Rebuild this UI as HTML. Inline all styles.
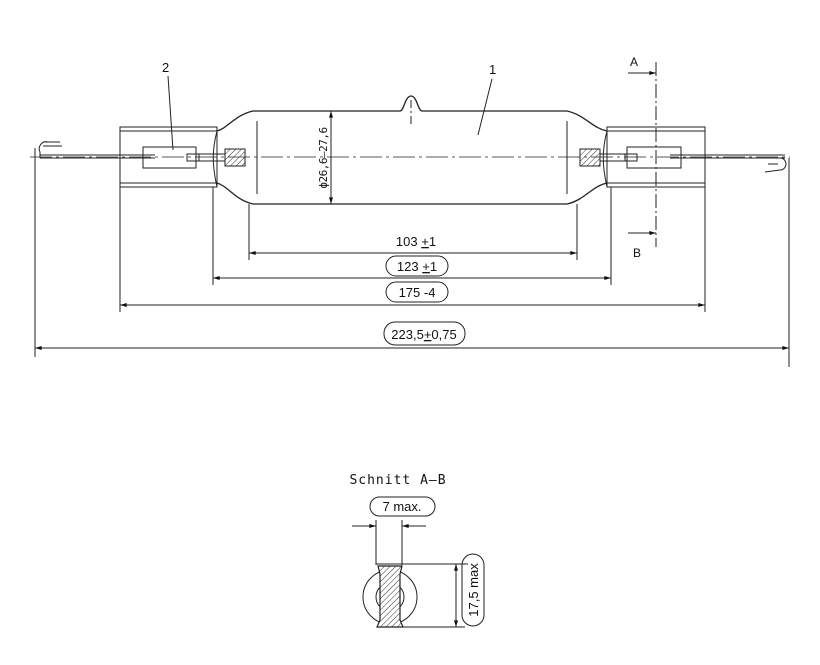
<!DOCTYPE html>
<html><head><meta charset="utf-8"><style>
body{margin:0;background:#fff}
svg{display:block}
text{font-family:"Liberation Sans Narrow","Liberation Sans",sans-serif;fill:#111;stroke:none}
</style></head><body>
<svg width="820" height="665" viewBox="0 0 820 665" xmlns="http://www.w3.org/2000/svg" stroke="#222" fill="none" stroke-width="1">
<defs>
<marker id="a" viewBox="0 0 10 6" refX="10" refY="3" markerWidth="10" markerHeight="4" orient="auto-start-reverse" markerUnits="userSpaceOnUse"><path d="M0,0L10,3L0,6z" fill="#111" stroke="none"/></marker>
<pattern id="h" width="4" height="4" patternUnits="userSpaceOnUse" patternTransform="rotate(45)"><line x1="0" y1="0" x2="0" y2="4" stroke="#333" stroke-width="1"/></pattern>
</defs>
<line x1="30" y1="157" x2="790" y2="157" stroke-dasharray="22,4,3,4" stroke-width="0.8"/>
<path d="M217,131 C228,128 235,115 253,111 L400,111 C404,111 405,96 411,96 C417,96 418,111 422,111 L567,111 C585,115 592,128 607,131 M217,183 C228,186 235,200 253,204 L567,204 C585,200 592,186 607,183" stroke-width="1.3"/>
<path d="M217,131 C212,150 212,165 217,187 M607,131 C602,150 602,165 607,187"/>
<line x1="257" y1="121" x2="257" y2="194"/>
<line x1="567" y1="121" x2="567" y2="194"/>
<line x1="411" y1="100" x2="411" y2="124" stroke-dasharray="8,3,2,3"/>
<rect x="120" y="127" width="97" height="60"/>
<line x1="120" y1="131" x2="217" y2="131"/><line x1="120" y1="183" x2="217" y2="183"/>
<rect x="607" y="127" width="98" height="60"/>
<line x1="607" y1="131" x2="705" y2="131"/><line x1="607" y1="183" x2="705" y2="183"/>
<rect x="143" y="147" width="53" height="21"/>
<rect x="627" y="147" width="54" height="21"/>
<rect x="187" y="154" width="12" height="7"/><rect x="625" y="154" width="12" height="7"/>
<line x1="199" y1="154" x2="225" y2="154"/><line x1="199" y1="161" x2="225" y2="161"/>
<line x1="600" y1="154" x2="625" y2="154"/><line x1="600" y1="161" x2="625" y2="161"/>
<rect x="225" y="149" width="20" height="17" fill="url(#h)"/>
<rect x="580" y="149" width="20" height="17" fill="url(#h)"/>
<line x1="40" y1="155" x2="155" y2="155"/><line x1="40" y1="158" x2="155" y2="158"/>
<line x1="670" y1="155" x2="785" y2="155"/><line x1="670" y1="158" x2="785" y2="158"/>
<path d="M48,142 A7,7 0 0 0 40,152 L40,158 M43,146 L62,146 M43,142 L60,142"/>
<path d="M780,158 A6,6 0 0 1 780,170 L765,172 M768,164 L778,164"/>
<line x1="331" y1="111" x2="331" y2="204" marker-start="url(#a)" marker-end="url(#a)"/>
<text x="327" y="158" font-size="11" text-anchor="middle" transform="rotate(-90 327 158)" style="font-family:'DejaVu Sans Mono',monospace" letter-spacing="-0.5">ϕ26,6–27,6</text>
<text x="162" y="72" font-size="13">2</text><line x1="168" y1="76" x2="173" y2="150"/>
<text x="489" y="74" font-size="13">1</text><line x1="492" y1="79" x2="478" y2="135"/>
<line x1="656" y1="62" x2="656" y2="247" stroke-dasharray="14,3,2,3"/>
<line x1="628" y1="73" x2="656" y2="73" marker-end="url(#a)"/>
<line x1="628" y1="233" x2="656" y2="233" marker-end="url(#a)"/>
<text x="630" y="66" font-size="12">A</text>
<text x="633" y="257" font-size="12">B</text>
<line x1="249" y1="204" x2="249" y2="260"/><line x1="577" y1="204" x2="577" y2="260"/>
<line x1="213" y1="187" x2="213" y2="285"/><line x1="611" y1="187" x2="611" y2="285"/>
<line x1="120" y1="187" x2="120" y2="312"/><line x1="705" y1="187" x2="705" y2="312"/>
<line x1="35" y1="148" x2="35" y2="357"/><line x1="789" y1="158" x2="789" y2="367"/>
<line x1="249" y1="253" x2="577" y2="253" marker-start="url(#a)" marker-end="url(#a)"/>
<text x="416" y="246" font-size="13" text-anchor="middle">103 <tspan text-decoration="underline">+</tspan>1</text>
<line x1="213" y1="278" x2="611" y2="278" marker-start="url(#a)" marker-end="url(#a)"/>
<rect x="386" y="256" width="62" height="20" rx="10"/>
<text x="417" y="271" font-size="13" text-anchor="middle">123 <tspan text-decoration="underline">+</tspan>1</text>
<line x1="120" y1="305" x2="705" y2="305" marker-start="url(#a)" marker-end="url(#a)"/>
<rect x="386" y="282" width="62" height="20" rx="10"/>
<text x="417" y="297" font-size="13" text-anchor="middle">175 -4</text>
<line x1="35" y1="348" x2="789" y2="348" marker-start="url(#a)" marker-end="url(#a)"/>
<rect x="384" y="322" width="81" height="23" rx="11"/>
<text x="424" y="339" font-size="13" text-anchor="middle">223,5<tspan text-decoration="underline">+</tspan>0,75</text>
<text x="398" y="484" font-size="13" text-anchor="middle" style="font-family:'DejaVu Sans Mono',monospace" letter-spacing="1">Schnitt A–B</text>
<rect x="370" y="497" width="65" height="19" rx="9.5"/>
<text x="402" y="511" font-size="13" text-anchor="middle">7 max.</text>
<line x1="376" y1="520" x2="376" y2="565"/><line x1="402" y1="520" x2="402" y2="565"/>
<line x1="352" y1="526" x2="376" y2="526" marker-end="url(#a)"/><line x1="426" y1="526" x2="402" y2="526" marker-end="url(#a)"/>
<line x1="376" y1="564" x2="468" y2="564"/>
<circle cx="390" cy="597" r="27"/><circle cx="390" cy="597" r="14"/>
<path d="M378,566 L402,566 L400,574 L400,620 L403,627 L377,627 L380,620 L380,574 Z" fill="#fff" stroke="none"/>
<path d="M378,566 L402,566 L400,574 L400,620 L403,627 L377,627 L380,620 L380,574 Z" fill="url(#h)" stroke-width="1.2"/>
<line x1="377" y1="627" x2="465" y2="627"/>
<line x1="456" y1="564" x2="456" y2="627" marker-start="url(#a)" marker-end="url(#a)"/>
<rect x="462" y="554" width="22" height="72" rx="11"/>
<text x="478" y="590" font-size="13" text-anchor="middle" transform="rotate(-90 478 590)">17,5 max</text>
</svg>
</body></html>
